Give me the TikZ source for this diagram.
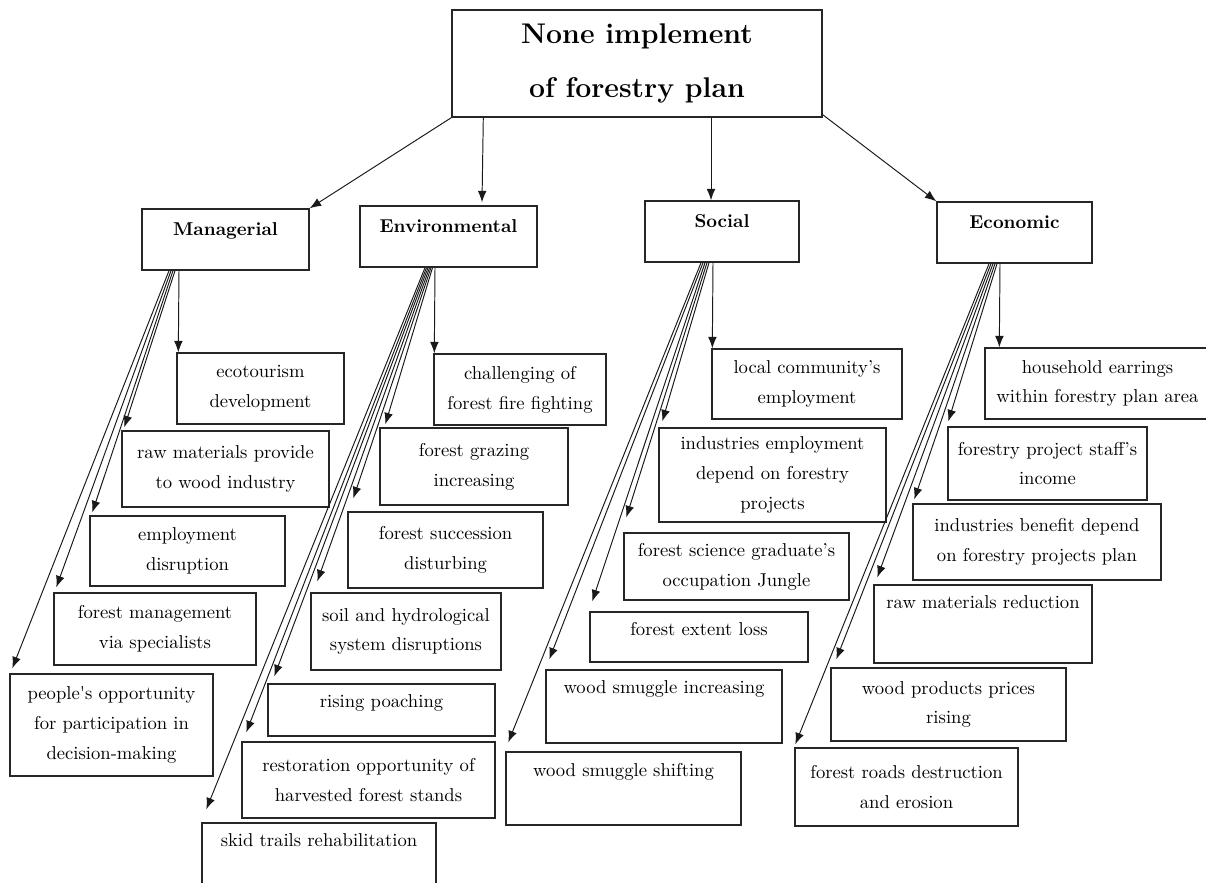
\documentclass[tikz,border=0pt]{standalone}
\usepackage{fontspec}
\usepackage{tikz}
\usetikzlibrary{arrows.meta,calc}

\tikzset{
  txtbox/.style={rectangle,draw=black!85,line width=0.8pt,align=center,inner sep=0pt,font=\fontsize{10.6}{17}\selectfont},
  catbox/.style={txtbox,font=\fontsize{10.6}{17}\selectfont\bfseries},
  titlebox/.style={txtbox,font=\fontsize{16.2}{31}\selectfont\bfseries},
  wh/.style 2 args={minimum width=#1*0.02cm,minimum height=#2*0.02cm},
  lift/.style={text height=7pt,text depth=#1},
  arr/.style={-{Latex[length=6.5pt,width=5pt]},line width=0.55pt,black!90},
}

\begin{document}
\begin{tikzpicture}[x=0.02cm,y=-0.02cm]
\useasboundingbox (0,0) rectangle (1206,882);
% main box
\node[titlebox,wh={370}{107}] (plan) at (637,63.5) {None implement\\of forestry plan};
% categories
\node[catbox,wh={167}{61},lift=11pt] (mgr) at (225.5,239.5) {Managerial};
\node[catbox,wh={177}{61},lift=11pt] (env) at (448.5,236.5) {Environmental};
\node[catbox,wh={154}{61},lift=11pt] (soc) at (722,231.5) {Social};
\node[catbox,wh={155}{61},lift=11pt] (eco) at (1014.5,232.5) {Economic};
\draw[arr] (plan.south west) -- (mgr.north east);
\draw[arr] ($(plan.south west)+(32,0)$) -- ($(env.north)+(33.5,-3)$);
\draw[arr] ($(plan.south)+(74,0)$) -- ($(soc.north)+(-11,0)$);
\draw[arr] ($(plan.south east)+(0,-3)$) -- (eco.north west);

% managerial
\node[txtbox,wh={167}{71}] (ecot) at (260.5,388.5) {ecotourism\\development};
\node[txtbox,wh={207}{76}] (rawp) at (225.5,469) {raw materials provide\\to wood industry};
\node[txtbox,wh={195}{70}] (empd) at (187.5,551) {employment\\disruption};
\node[txtbox,wh={202}{72}] (fmgt) at (155,629) {forest management\\via specialists};
\node[txtbox,wh={203}{102}] (ppl) at (111.5,725) {people\textquotesingle s opportunity\\for participation in\\decision-making};
\draw[arr] ($(mgr.south)+(-46.5,0)$) -- ($(ecot.north west)+(2,0)$);
\draw[arr] ($(mgr.south)+(-50.5,0)$) -- ($(rawp.north west)+(3,-3)$);
\draw[arr] ($(mgr.south)+(-52.5,0)$) -- ($(empd.north west)+(3,-3)$);
\draw[arr] ($(mgr.south)+(-54.5,0)$) -- ($(fmgt.north west)+(3,-5)$);
\draw[arr] ($(mgr.south)+(-56.5,0)$) -- ($(ppl.north west)+(3,-5)$);

% environmental
\node[txtbox,wh={172}{71}] (fire) at (520,389.5) {challenging of\\forest fire fighting};
\node[txtbox,wh={188}{77}] (graz) at (474,466.5) {forest grazing\\increasing};
\node[txtbox,wh={195}{76}] (succ) at (445.5,550) {forest succession\\disturbing};
\node[txtbox,wh={190}{77}] (soil) at (406,631.5) {soil and hydrological\\system disruptions};
\node[txtbox,wh={227}{52},lift=9.6pt] (poach) at (381.5,710) {rising poaching};
\node[txtbox,wh={253}{76}] (rest) at (368.5,780) {restoration opportunity of\\harvested forest stands};
\node[txtbox,wh={234}{72},lift=21pt] (skid) at (319,859) {skid trails rehabilitation};
\draw[arr] ($(env.south)+(-13.5,0)$) -- ($(fire.north west)+(1,0)$);
\draw[arr] ($(env.south)+(-16,0)$) -- ($(graz.north west)+(6,-3)$);
\draw[arr] ($(env.south)+(-17.5,0)$) -- ($(succ.north west)+(6,-13)$);
\draw[arr] ($(env.south)+(-19,0)$) -- ($(soil.north west)+(7,-11)$);
\draw[arr] ($(env.south)+(-20.5,0)$) -- ($(poach.north west)+(7,-7)$);
\draw[arr] ($(env.south)+(-22,0)$) -- ($(rest.north west)+(5,-9)$);
\draw[arr] ($(env.south)+(-23.5,0)$) -- ($(skid.north west)+(5,-13)$);

% social
\node[txtbox,wh={190}{70}] (comm) at (807,384) {local community's\\employment};
\node[txtbox,wh={227}{94}] (inde) at (772.5,475) {industries employment\\depend on forestry\\projects};
\node[txtbox,wh={225}{67}] (grad) at (736.5,566.5) {forest science graduate's\\occupation Jungle};
\node[txtbox,wh={218}{50},lift=8.4pt] (loss) at (699,637) {forest extent loss};
\node[txtbox,wh={236}{73},lift=22pt] (smgi) at (664,706.5) {wood smuggle increasing};
\node[txtbox,wh={235}{73},lift=20.4pt] (smgs) at (623.5,788.5) {wood smuggle shifting};
\draw[arr] ($(soc.south)+(-9,0)$) -- ($(comm.north west)+(1,0)$);
\draw[arr] ($(soc.south)+(-13,0)$) -- ($(inde.north west)+(4,-6)$);
\draw[arr] ($(soc.south)+(-15,0)$) -- ($(grad.north west)+(3,-15)$);
\draw[arr] ($(soc.south)+(-17,0)$) -- ($(loss.north west)+(3,-10)$);
\draw[arr] ($(soc.south)+(-19,0)$) -- ($(smgi.north west)+(4,-10)$);
\draw[arr] ($(soc.south)+(-21,0)$) -- ($(smgs.north west)+(3,-9)$);

% economic
\node[txtbox,wh={225}{71}] (hh) at (1097.5,383.5) {household earrings\\within forestry plan area};
\node[txtbox,wh={199}{73}] (staff) at (1047.5,463.5) {forestry project staff's\\income};
\node[txtbox,wh={248}{76}] (bnft) at (1037,542) {industries benefit depend\\on forestry projects plan};
\node[txtbox,wh={218}{78},lift=24.4pt] (rawr) at (983,624) {raw materials reduction};
\node[txtbox,wh={235}{73}] (price) at (948.5,704.5) {wood products prices\\rising};
\node[txtbox,wh={223}{78}] (road) at (906.5,787) {forest roads destruction\\and erosion};
\draw[arr] ($(eco.south)+(-14.5,0)$) -- ($(hh.north west)+(15,0)$);
\draw[arr] ($(eco.south)+(-17.5,0)$) -- ($(staff.north west)+(1,-5)$);
\draw[arr] ($(eco.south)+(-19.5,0)$) -- ($(bnft.north west)+(2,-4)$);
\draw[arr] ($(eco.south)+(-21.5,0)$) -- ($(rawr.north west)+(4,-7)$);
\draw[arr] ($(eco.south)+(-23.5,0)$) -- ($(price.north west)+(6,-8)$);
\draw[arr] ($(eco.south)+(-25.5,0)$) -- ($(road.north west)+(1,-3)$);
\end{tikzpicture}
\end{document}
